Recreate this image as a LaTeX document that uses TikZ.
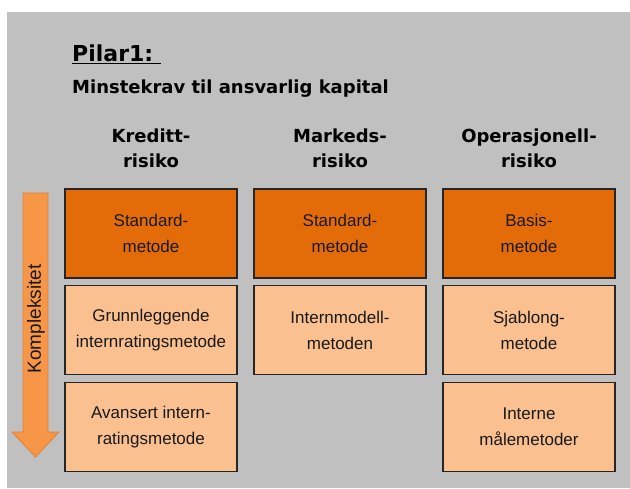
\documentclass[tikz,border=0pt]{standalone}
\usepackage{fontspec}
\setmainfont{Liberation Sans}
\newfontfamily\headfont{DejaVu Sans}
\definecolor{bggray}{HTML}{C0C0C0}
\definecolor{darkorange}{HTML}{E36C09}
\definecolor{lightorange}{HTML}{FAC090}
\definecolor{arroworange}{HTML}{F79646}
\definecolor{arrowedge}{HTML}{E0803A}
\tikzset{
  method/.style={draw=black!85, line width=1.3pt, minimum width=172pt,
    minimum height=89pt, inner sep=0pt, align=center,
    font=\fontsize{17}{26}\selectfont, text=black!90,
    execute at begin node={\rule{0pt}{24pt}}},
  basic/.style={method, fill=darkorange},
  advanced/.style={method, fill=lightorange},
  riskhead/.style={align=center, font=\headfont\bfseries\fontsize{18}{25}\selectfont}
}
\begin{document}
\begin{tikzpicture}[x=1pt,y=-1pt]
    \useasboundingbox (0,0) rectangle (630,488);
    \fill[bggray] (7,12) rectangle (630,488);% grey background
    \node[anchor=base west, inner sep=0pt, font=\headfont\bfseries\fontsize{22}{26}\selectfont]
        (title) at (72,61) {\underline{Pilar1:\ }};
    \node[anchor=base west, inner sep=0pt, font=\headfont\bfseries\fontsize{18}{22}\selectfont]
        (subtitle) at (72,93) {Minstekrav til ansvarlig kapital};
    % column heads
    \node[riskhead] (kreditt) at (151,148) {Kreditt-\\risiko};
    \node[riskhead] (markeds) at (340,148) {Markeds-\\risiko};
    \node[riskhead] (operasjonell) at (529,148) {Operasjonell-\\risiko};
    % first row: simplest methods
    \node[basic] (kstandard) at (151,233.5) {Standard-\\metode};
    \node[basic] (mstandard) at (340,233.5) {Standard-\\metode};
    \node[basic] (obasis) at (529,233.5) {Basis-\\metode};
    % second and third row
    \node[advanced] (kgrunn) at (151,330) {Grunnleggende\\internratingsmetode};
    \node[advanced] (mintern) at (340,330) {Internmodell-\\metoden};
    \node[advanced] (osjablong) at (529,330) {Sjablong-\\metode};
    \node[advanced] (kavansert) at (151,427) {Avansert intern-\\ratingsmetode};
    \node[advanced] (ointerne) at (529,427) {Interne\\målemetoder};
    % complexity arrow
    \filldraw[fill=arroworange, draw=arrowedge, line width=0.8pt]
        (23,193) -- (48,193) -- (48,432) -- (59,432) -- (35.5,457)
        -- (12,432) -- (23,432) -- cycle;
    \node[rotate=90, font=\fontsize{19}{22}\selectfont, text=black!90]
        (kompleksitet) at (36,319) {Kompleksitet};
  \end{tikzpicture}
\end{document}
